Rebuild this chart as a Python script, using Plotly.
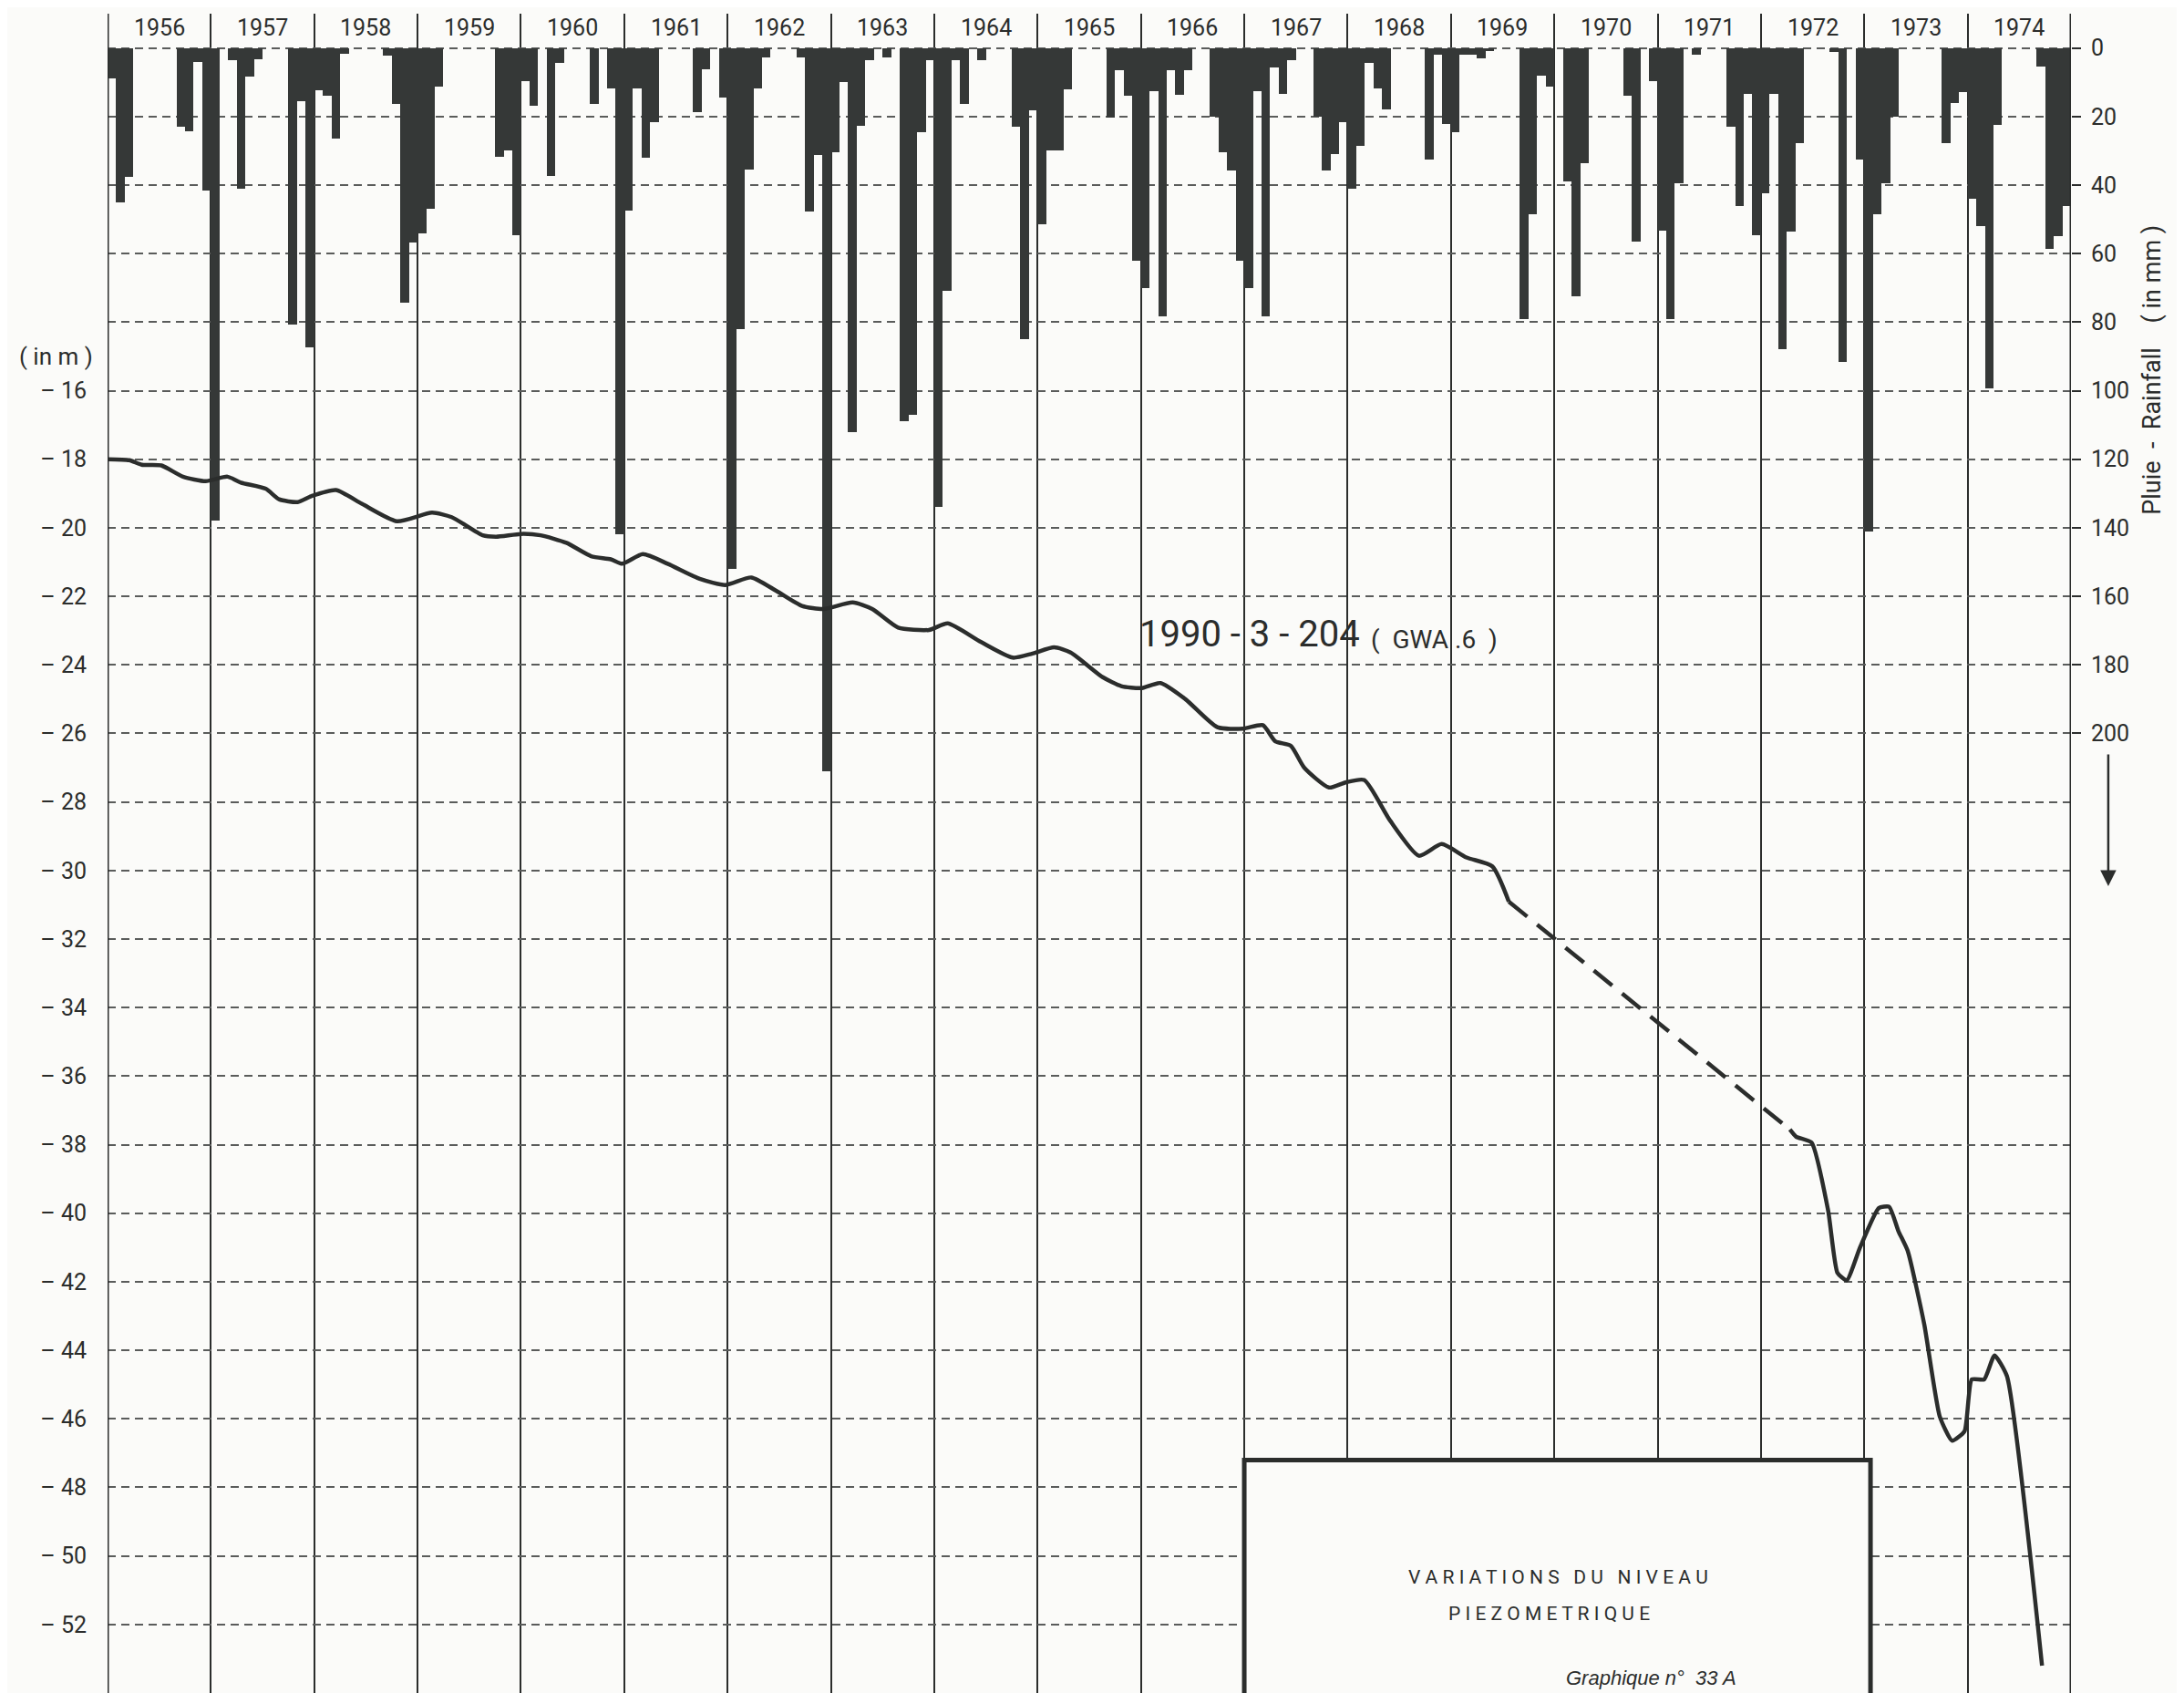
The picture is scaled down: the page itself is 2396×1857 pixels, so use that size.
import plotly.graph_objects as go

# years shown on the chart, one column each
years = list(range(1956, 1975))
year_labels = [str(y) for y in years]

# monthly rainfall (mm), Jan..Dec
rain_1956 = [9, 45, 37.6, 0, 0, 0, 0, 0, 23, 24.3, 4, 41.5]
rain_1957 = [138, 0, 3.6, 41, 8.4, 3.4, 0, 0, 0, 80.7, 15.6, 87.4]
rain_1958 = [12.3, 14, 26.5, 1.8, 0, 0, 0, 0, 2.2, 16.3, 74.4, 56.7]
rain_1959 = [54, 47, 11.4, 0, 0, 0, 0, 0, 0, 31.7, 29.8, 54.6]
rain_1960 = [9.6, 16.8, 0, 37.3, 4.3, 0, 0, 0, 16.3, 0, 11.8, 142]
rain_1961 = [47.5, 11.8, 32, 21.6, 0, 0, 0, 0, 18.6, 6.3, 0, 14.5]
rain_1962 = [152, 82, 35.5, 11.8, 2.8, 0, 0, 0, 2.8, 47.8, 31.3, 211]
rain_1963 = [30.5, 10, 112, 22.6, 3.6, 0, 2.8, 0, 109, 107, 24.5, 3.6]
rain_1964 = [134, 71, 3.6, 16.3, 0, 3.6, 0, 0, 0, 23, 85, 18.3]
rain_1965 = [51.5, 30, 30, 12, 0, 0, 0, 0, 20.4, 6.6, 14, 62]
rain_1966 = [70, 12.6, 78.4, 6.6, 13.6, 6.6, 0, 0, 20, 30.5, 35.8, 62]
rain_1967 = [70, 12.6, 78.4, 5.8, 13.3, 3.6, 0, 0, 20, 35.8, 31, 21.6]
rain_1968 = [41, 28.6, 4.3, 11.8, 17.8, 0, 0, 0, 0, 32.5, 2, 22.3]
rain_1969 = [24.5, 2, 2, 3, 1, 0, 0, 0, 79, 48.5, 8, 11.4]
rain_1970 = [0, 39, 72.5, 33.5, 0, 0, 0, 0, 14, 56.5, 0, 9.6]
rain_1971 = [53.4, 79, 39.5, 0, 2, 0, 0, 0, 23, 46, 13.5, 54.6]
rain_1972 = [42.5, 13.5, 87.8, 53.6, 27.8, 0, 0, 0, 1.3, 91.5, 0, 32.5]
rain_1973 = [141, 48.5, 39.5, 20, 0, 0, 0, 0, 0, 27.8, 16, 13]
rain_1974 = [43.9, 52, 99.4, 22.5, 0, 0, 0, 0, 5.5, 58.5, 54.8, 46]

rain_years = [rain_1956, rain_1957, rain_1958, rain_1959, rain_1960, rain_1961,
              rain_1962, rain_1963, rain_1964, rain_1965, rain_1966, rain_1967,
              rain_1968, rain_1969, rain_1970, rain_1971, rain_1972, rain_1973,
              rain_1974]

# piezometric level (m), decimal year
level_time = [1956.00, 1956.21, 1956.33, 1956.52, 1956.73, 1956.95, 1957.16, 1957.29,
              1957.53, 1957.66, 1957.84, 1957.97, 1958.21, 1958.46, 1958.80, 1959.14,
              1959.33, 1959.63, 1959.76, 1960.00, 1960.19, 1960.44, 1960.68, 1960.87,
              1960.98, 1961.18, 1961.42, 1961.73, 1961.98, 1962.23, 1962.47, 1962.72,
              1962.93, 1963.21, 1963.40, 1963.65, 1963.95, 1964.13, 1964.45, 1964.76,
              1964.95, 1965.16, 1965.32, 1965.63, 1965.81, 1966.00, 1966.19, 1966.43,
              1966.74, 1966.99, 1967.18, 1967.30, 1967.45, 1967.58, 1967.82, 1967.98,
              1968.16, 1968.41, 1968.69, 1968.91, 1969.15, 1969.40, 1969.56,
              1972.28, 1972.34, 1972.49, 1972.65, 1972.74, 1972.83, 1972.96, 1973.14,
              1973.24, 1973.33, 1973.42, 1973.58, 1973.73, 1973.85, 1973.97, 1974.04,
              1974.16, 1974.26, 1974.38, 1974.72]
level_m = [-18.00, -18.03, -18.16, -18.18, -18.51, -18.64, -18.51, -18.68,
           -18.86, -19.17, -19.25, -19.08, -18.90, -19.30, -19.81, -19.56,
           -19.69, -20.22, -20.26, -20.18, -20.22, -20.44, -20.83, -20.92,
           -21.05, -20.77, -21.05, -21.49, -21.67, -21.45, -21.84, -22.28,
           -22.37, -22.18, -22.37, -22.91, -22.98, -22.79, -23.33, -23.79,
           -23.67, -23.49, -23.64, -24.36, -24.62, -24.68, -24.53, -25.00,
           -25.82, -25.86, -25.76, -26.23, -26.36, -27.00, -27.58, -27.43,
           -27.36, -28.54, -29.57, -29.23, -29.62, -29.88, -30.91,
           -37.56, -37.77, -37.94, -39.92, -41.74, -41.96, -40.99, -39.85,
           -39.81, -40.52, -41.10, -43.24, -45.93, -46.64, -46.36, -44.85,
           -44.85, -44.15, -44.75, -53.20]
gap_start = level_time.index(1969.56)   # no readings between these two
gap_end = level_time.index(1972.28)

rain_ticks = list(range(0, 201, 20))
grid_levels = list(range(-6, -53, -2))
level_labels = ["– %d" % abs(v) if v <= -16 else "" for v in grid_levels]

ink = "#2b2d2c"
font = "Roboto"

# monthly bars
bar_x, bar_y = [], []
for yr, vals in zip(years, rain_years):
    for m, v in enumerate(vals):
        bar_x.append(yr + (m + 0.5) / 12)
        bar_y.append(v)

fig = go.Figure()
fig.add_trace(go.Bar(x=bar_x, y=bar_y, width=1 / 12, marker=dict(color="#353837", line_width=0),
                     yaxis="y", showlegend=False, hoverinfo="skip"))

fig.add_trace(go.Scatter(x=level_time[:gap_start + 1], y=level_m[:gap_start + 1], yaxis="y2",
                         mode="lines", line=dict(color=ink, width=4.5, shape="spline", smoothing=0.6),
                         showlegend=False))
fig.add_trace(go.Scatter(x=level_time[gap_start:gap_end + 1], y=level_m[gap_start:gap_end + 1], yaxis="y2",
                         mode="lines", line=dict(color=ink, width=4.5, dash="26px,14px"),
                         showlegend=False))
fig.add_trace(go.Scatter(x=level_time[gap_end:], y=level_m[gap_end:], yaxis="y2",
                         mode="lines", line=dict(color=ink, width=4.5, shape="spline", smoothing=0.5),
                         showlegend=False))

annotations = []
for yr, lab in zip(years, year_labels):
    annotations.append(dict(x=yr + 0.5, y=-5.4, xref="x", yref="y2", text=lab, showarrow=False,
                            font=dict(size=25, color=ink, family=font)))

annotations += [
    dict(x=-0.026, y=0.796, xref="paper", yref="paper", xanchor="center", yanchor="middle",
         text="( in m )", showarrow=False, font=dict(size=26, color=ink, family=font)),
    dict(x=1.041, y=0.788, xref="paper", yref="paper", xanchor="center", yanchor="middle",
         text="Pluie  -  Rainfall    ( in mm )",
         textangle=-90, showarrow=False, font=dict(size=27, color=ink, family=font)),
    dict(x=1.019, y=0.4805, xref="paper", yref="paper", text="", showarrow=True, ax=0, ay=-146,
         arrowhead=2, arrowsize=1.4, arrowwidth=2.5, arrowcolor=ink),
    dict(x=1968.14, y=-23.1, xref="x", yref="y2", xanchor="right", text="1990 - 3 - 204",
         showarrow=False, font=dict(size=40, color=ink, family=font)),
    dict(x=1968.21, y=-23.25, xref="x", yref="y2", xanchor="left", text="(  GWA .6  )",
         showarrow=False, font=dict(size=28, color=ink, family=font)),
    dict(x=1970.04, y=-50.63, xref="x", yref="y2", text="V A R I A T I O N S   D U   N I V E A U",
         showarrow=False, font=dict(size=21, color=ink, family=font)),
    dict(x=1969.95, y=-51.69, xref="x", yref="y2", text="P I E Z O M E T R I Q U E",
         showarrow=False, font=dict(size=21, color=ink, family=font)),
    dict(x=1970.94, y=-53.18, xref="x", yref="y2", yanchor="top", text="<i>Graphique n° &nbsp;33 A</i>",
         showarrow=False, font=dict(size=22, color=ink, family="Liberation Sans")),
]

shapes = [
    dict(type="line", xref="x", yref="paper", x0=1956, x1=1956, y0=0, y1=1, line=dict(color=ink, width=3)),
    dict(type="line", xref="x", yref="paper", x0=1975, x1=1975, y0=0, y1=1, line=dict(color=ink, width=3)),
    dict(type="rect", xref="x", yref="y2", x0=1967.0, x1=1973.06, y0=-47.2, y1=-60,
         line=dict(color=ink, width=5), fillcolor="#fbfbf9", layer="above"),
]

# the page body adds an 8px offset, so margins are trimmed to keep the plot box in place
fig.update_layout(
    width=2396, height=1857,
    margin=dict(l=110, r=132, t=7, b=8, autoexpand=False),
    paper_bgcolor="#fbfbf9", plot_bgcolor="#fbfbf9",
    bargap=0,
    xaxis=dict(range=[1956, 1975], tickvals=years + [1975], showticklabels=False, ticks="",
               showgrid=True, gridcolor=ink, gridwidth=2, zeroline=False, showline=False,
               automargin=False),
    yaxis=dict(range=[480, -10], side="right", tickvals=rain_ticks, ticks="outside", ticklen=10,
               tickwidth=2, tickcolor=ink, ticklabelstandoff=6, showgrid=False, zeroline=False,
               showline=False, automargin=False, tickfont=dict(size=25, color=ink, family=font)),
    yaxis2=dict(range=[-54, -5], overlaying="y", side="left", tickvals=grid_levels, ticktext=level_labels,
                ticks="", ticklabelstandoff=22, showgrid=True, gridcolor="#5a5c5b", gridwidth=1.5,
                griddash="9px,6px", zeroline=False, showline=False, automargin=False,
                tickfont=dict(size=25, color=ink, family=font)),
    annotations=annotations,
    shapes=shapes,
)

fig.write_html("out.html")
